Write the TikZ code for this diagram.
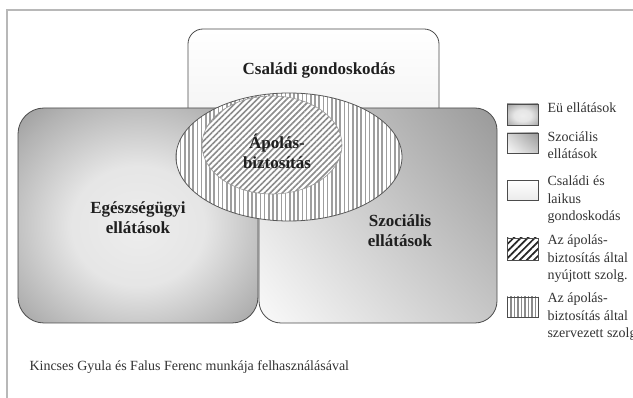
\documentclass[tikz,border=0pt]{standalone}
\usepackage{fontspec}
\setmainfont{Liberation Serif}
\usetikzlibrary{patterns.meta,shadings}
\pgfdeclareradialshading{euglow}{\pgfpoint{0bp}{-3bp}}{color(0bp)=(black!7); color(14bp)=(black!10); color(30bp)=(black!30); color(50bp)=(black!58); color(72bp)=(black!74)}
\tikzset{
	venn label/.style={font=\fontsize{17}{20}\selectfont\bfseries, align=center, text=black!88},
	key text/.style={anchor=west, align=left, font=\fontsize{14}{17.5}\selectfont, text=black!80},
	rim/.style={draw=black!70, line width=0.8pt},
	szoc fill/.style={upper right=black!40, lower left=black!2, upper left=black!16, lower right=black!22},
	vlines/.style={pattern={Lines[angle=90,distance=4.2pt,line width=1.6pt]}, pattern color=black!38},
	dlines/.style={pattern={Lines[angle=45,distance=4.2pt,line width=1.6pt]}, pattern color=black!45},
}
\begin{document}
\begin{tikzpicture}[x=1pt,y=-1pt]
		%%%%% START %%%%%
		\useasboundingbox (0,0) rectangle (633,398);
		\clip (0,0) rectangle (633,398);
		\fill[white] (0,0) rectangle (633,398);
		\draw[line width=2pt, color=black!28] (7,398) -- (7,10) -- (633,10);
		
		% csaladi gondoskodas
		\shade[rim, rounded corners=15, top color=white, bottom color=black!8] (188,29) rectangle (439,200);
		
		% eu ellatasok
		\shade[rim, rounded corners=26, shading=euglow] (18,108) rectangle (258,323);
		
		% szocialis ellatasok
		\shade[rim, rounded corners=22, szoc fill] (259,108) rectangle (497,323);
		
		% apolasbiztositas
		\draw[rim, draw=black!65, preaction={fill=white}, vlines] (289,157) ellipse [x radius=113pt, y radius=64pt];
		\draw[line width=0.6pt, draw=black!40, preaction={fill=white}, dlines] (272,145) ellipse [x radius=70pt, y radius=49pt];
		
		\node[venn label] (csaladi) at (319,70) {Családi gondoskodás};
		\node[venn label] (eu) at (138,218) {Egészségügyi\\ellátások};
		\node[venn label] (szoc) at (400,231) {Szociális\\ellátások};
		\node[venn label] (apolas) at (277,151) {Ápolás-\\biztosítás};
		
		% jelmagyarazat
		\shade[rim, shading=euglow] (507,104) rectangle (538,125);
		\shade[rim, szoc fill] (507,133) rectangle (538,153);
		\shade[rim, top color=white, bottom color=black!8] (507,180) rectangle (538,200);
		\draw[rim, preaction={fill=white}, pattern={Lines[angle=45,distance=5pt,line width=1.7pt]}, pattern color=black!85] (507,238) rectangle (538,260);
		\draw[rim, preaction={fill=white}, pattern={Lines[angle=90,distance=3.5pt,line width=1.1pt]}, pattern color=black!45] (507,297) rectangle (538,317);
		
		\node[key text] (k1) at (544,108) {Eü ellátások};
		\node[key text] (k2) at (544,145) {Szociális\\ellátások};
		\node[key text] (k3) at (544,200) {Családi és\\laikus\\gondoskodás};
		\node[key text] (k4) at (544,259) {Az ápolás-\\biztosítás által\\nyújtott szolg.};
		\node[key text] (k5) at (544,317) {Az ápolás-\\biztosítás által\\szervezett szolg.};
		
		\node[anchor=west, font=\fontsize{14}{17}\selectfont, text=black!80] (forras) at (26,367) {Kincses Gyula és Falus Ferenc munkája felhasználásával};
		%%%%% END %%%%%
\end{tikzpicture}
\end{document}
